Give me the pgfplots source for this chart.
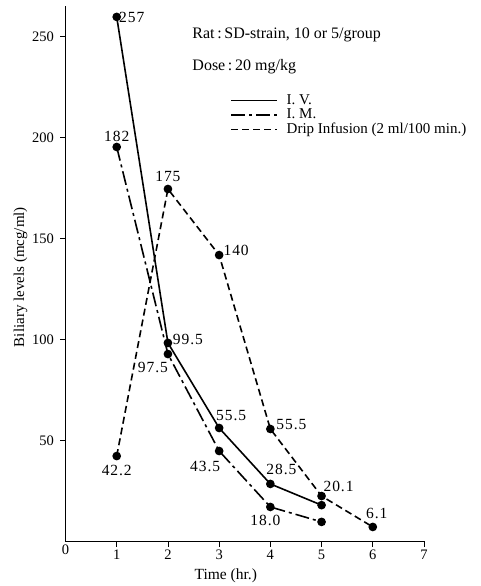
\documentclass[border=0pt]{standalone}
\usepackage{fontspec}
\setmainfont{Liberation Serif}
\usepackage{pgfplots}
\pgfplotsset{compat=1.18}
\newcommand{\lab}[5]{\node[font=\fontsize{15.5}{15.5}\selectfont, xshift=#3pt, yshift=#4pt] at (axis cs:#1,#2) {\addfontfeatures{LetterSpace=6}#5};}
\begin{document}
\begin{tikzpicture}
\begin{axis}[
  at={(65.5pt,44.5pt)}, anchor=south west,
  scale only axis, width=358.5pt, height=535.3pt,
  xmin=0, xmax=7, ymin=0, ymax=265,
  axis x line=bottom, axis y line=left,
  axis line style={-, line width=1.2pt},
  xtick={1,...,7}, ytick={50,100,150,200,250},
  extra x ticks={0}, extra x tick style={major tick length=0pt},
  tick align=outside, major tick length=5pt,
  tick style={line width=0.8pt, black},
  ticklabel style={font=\fontsize{14.5}{14.5}\selectfont},
  yticklabel style={xshift=-3pt},
  /pgf/number format/assume math mode=true,
  xlabel={Time (hr.)}, ylabel={Biliary levels (mcg/ml)},
  xlabel style={at={(axis description cs:0.447,-0.0635)}, anchor=center, font=\fontsize{15.5}{15.5}\selectfont},
  ylabel style={at={(axis description cs:-0.1257,0.494)}, anchor=center, font=\fontsize{15}{15}\selectfont},
  clip=false,
  legend style={at={(axis cs:3.22,222)}, anchor=north west, draw=none, fill=none,
    font=\fontsize{15}{15}\selectfont, inner sep=0pt, row sep=0pt,
    nodes={inner sep=1.5pt}},
  legend cell align=left,
  legend image code/.code={\draw[#1] (0pt,0pt) -- (46pt,0pt); \path (53pt,0pt);},
]
\addplot[black, line width=1.6pt, mark=*, mark size=3.5pt, mark options={solid}]
  coordinates {(1,259.7) (2,98.3) (3,56.2) (4,28.5) (5,18)};
\addplot[black, line width=1.6pt, dash pattern=on 14pt off 4pt on 3pt off 4pt, mark=*, mark size=3.5pt, mark options={solid}]
  coordinates {(1,195.3) (2,92.8) (3,44.8) (4,17.1) (5,9.7)};
\addplot[black, line width=1.6pt, dash pattern=on 7pt off 4pt, mark=*, mark size=3.5pt, mark options={solid}]
  coordinates {(1,42.3) (2,174.5) (3,141.8) (4,55.7) (5,22.5) (6,7.2)};
\legend{I. V., I. M., Drip Infusion (2 ml/100 min.)}
\node[anchor=west, font=\fontsize{16}{16}\selectfont] at (axis cs:2.41,250.7) {Rat\,:\,SD-strain, 10 or 5/group};
\node[anchor=west, font=\fontsize{16}{16}\selectfont] at (axis cs:2.41,234.9) {Dose\,:\,20 mg/kg};
\lab{1}{259.7}{15}{-1}{257}
\lab{1}{195.3}{0}{11}{182}
\lab{1}{42.3}{0}{-14}{42.2}
\lab{2}{174.5}{0}{13}{175}
\lab{2}{98.3}{20}{3}{99.5}
\lab{2}{92.8}{-15}{-13}{97.5}
\lab{3}{141.8}{17}{5}{140}
\lab{3}{56.2}{12}{12}{55.5}
\lab{3}{44.8}{-14}{-15}{43.5}
\lab{4}{55.7}{21}{4}{55.5}
\lab{4}{28.5}{11}{14}{28.5}
\lab{4}{17.1}{-5}{-13}{18.0}
\lab{5}{22.5}{17}{10}{20.1}
\lab{6}{7.2}{4}{13}{6.1}
\end{axis}
\pgfresetboundingbox
\useasboundingbox (0,0) rectangle (480pt,586pt);
\end{tikzpicture}
\end{document}
